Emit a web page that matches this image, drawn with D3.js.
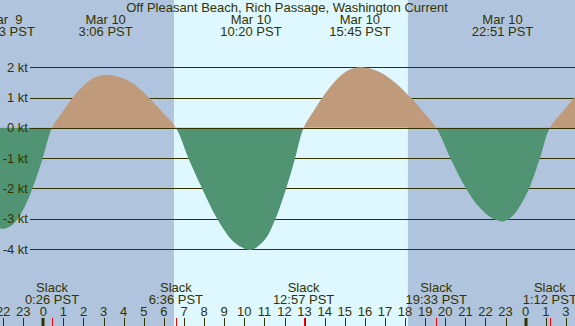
<!DOCTYPE html>
<html><head><meta charset="utf-8">
<script src="https://cdn.jsdelivr.net/npm/d3@7"></script>
<style>
html,body{margin:0;padding:0;background:#b0c4de;}
svg{display:block;}
text{font-family:"Liberation Sans",Arial,sans-serif;fill:#333300;white-space:pre;}
</style></head>
<body>
<script>
// ---- data (hours relative to Mar 10 00:00 PST) ----
const title = "Off Pleasant Beach, Rich Passage, Washington Current";
const curveHours = [-2.4,-1.947,-1.466,-0.971,-0.543,-0.029,0.433,
  0.95,1.526,2.007,2.561,3.1,3.85,4.6,5.25,5.95,6.6,
  7.22,7.9,8.65,9.38,9.9,10.33,11.01,11.55,12.08,12.53,12.95,
  13.49,14.10,14.60,15.18,15.75,16.52,17.31,18.28,18.81,19.55,
  20.25,21.03,21.66,22.31,22.85,23.32,23.81,24.17,24.71,25.2,
  25.85,26.45,26.8];
const curveKnots = [-3.26,-3.33,-3.16,-2.66,-2.0,-1.0,0,
  0.525,1.05,1.40,1.66,1.75,1.66,1.40,1.0,0.5,0,
  -1.0,-2.0,-3.0,-3.70,-3.95,-4.03,-3.70,-3.0,-2.0,-1.0,0,
  0.6,1.2,1.6,1.9,2.0,1.9,1.6,1.0,0.6,0,
  -1.0,-2.0,-2.6,-2.98,-3.09,-2.93,-2.47,-2.0,-1.0,0,
  0.55,1.02,1.25];
const gridKnots = [2,1,0,-1,-2,-3,-4];
const gridLabels = ["2 kt","1 kt","0 kt","-1 kt","-2 kt","-3 kt","-4 kt"];
const tickHours = d3.range(-2,27);
const tickLabels = ["22","23","0","1","2","3","4","5","6","7","8","9","10","11","12",
  "13","14","15","16","17","18","19","20","21","22","23","0","1","3"];
const midnightHours = [0,24];
const slackHours = [0.433,6.6,12.95,19.55,25.2];
const slackLabels = ["0:26 PST","6:36 PST","12:57 PST","19:33 PST","1:12 PST"];
const extremeHours = [-1.95,3.1,10.33,15.75,22.85];
const extremeDates = ["Mar  9","Mar 10","Mar 10","Mar 10","Mar 10"];
const extremeLabels = ["22:03 PST","3:06 PST","10:20 PST","15:45 PST","22:51 PST"];
const daylight = [6.5,18.14];

// ---- drawing ----
const W=575,H=326;
const x = d3.scaleLinear().domain([-43.3/20.1,(575-43.3)/20.1]).range([0,W]);
const y = d3.scaleLinear().domain([2,-4]).range([67.3,249]);
const svg = d3.select("body").append("svg").attr("width",W).attr("height",H);

svg.append("rect").attr("width",W).attr("height",H).attr("fill","#b0c4de");
svg.append("rect").attr("x",x(daylight[0])).attr("y",0)
  .attr("width",x(daylight[1])-x(daylight[0])).attr("height",H).attr("fill","#dff7ff");

// grid lines (under the fill)
svg.selectAll("line.grid").data(gridKnots.filter(d=>d!==0)).join("line")
  .attr("x1",30).attr("x2",W)
  .attr("y1",d=>Math.round(y(d))+0.5).attr("y2",d=>Math.round(y(d))+0.5)
  .attr("stroke","#333300").attr("stroke-width",1);

const pts = curveHours.map((h,i)=>[h,curveKnots[i]]);
const area = d3.area().x(d=>x(d[0])).y0(y(0)).y1(d=>y(d[1])).curve(d3.curveCatmullRom.alpha(0.5));
const defs = svg.append("defs");
defs.append("clipPath").attr("id","above").append("rect")
  .attr("x",0).attr("y",0).attr("width",W).attr("height",y(0));
defs.append("clipPath").attr("id","below").append("rect")
  .attr("x",0).attr("y",y(0)).attr("width",W).attr("height",H-y(0));
svg.append("path").datum(pts).attr("d",area).attr("fill","#bf9b7b").attr("clip-path","url(#above)");
svg.append("path").datum(pts).attr("d",area).attr("fill","#509473").attr("clip-path","url(#below)");

// zero line on top
svg.append("line").attr("x1",30).attr("x2",W)
  .attr("y1",Math.round(y(0))+0.5).attr("y2",Math.round(y(0))+0.5)
  .attr("stroke","#333300").attr("stroke-width",1);

// y labels
svg.selectAll("text.ylab").data(gridKnots).join("text")
  .attr("x",28).attr("y",d=>y(d)).attr("dy","0.35em").attr("text-anchor","end")
  .attr("font-size",13).text((d,i)=>gridLabels[i]);

// title
svg.append("text").attr("x",287).attr("y",12).attr("text-anchor","middle")
  .attr("font-size",13).text(title);

// extremes labels
extremeHours.forEach((h,i)=>{
  svg.append("text").attr("x",x(h)).attr("y",24).attr("text-anchor","middle")
    .attr("font-size",13).text(extremeDates[i]);
  svg.append("text").attr("x",x(h)).attr("y",36).attr("text-anchor","middle")
    .attr("font-size",13).text(extremeLabels[i]);
});

// slack labels
slackHours.forEach((h,i)=>{
  svg.append("text").attr("x",x(h)).attr("y",291.5).attr("text-anchor","middle")
    .attr("font-size",13).text("Slack");
  svg.append("text").attr("x",x(h)).attr("y",304).attr("text-anchor","middle")
    .attr("font-size",13).text(slackLabels[i]);
});

// hour ticks & labels
svg.selectAll("text.hr").data(tickHours).join("text")
  .attr("x",d=>x(d)).attr("y",316).attr("text-anchor","middle")
  .attr("font-size",13).text((d,i)=>tickLabels[i]);
svg.selectAll("line.tk").data(tickHours.filter(h=>!midnightHours.includes(h))).join("line")
  .attr("x1",d=>Math.round(x(d))+0.5).attr("x2",d=>Math.round(x(d))+0.5)
  .attr("y1",318).attr("y2",H).attr("stroke","#333300");
svg.selectAll("rect.mid").data(midnightHours).join("rect")
  .attr("x",d=>Math.round(x(d))-1.5).attr("y",318).attr("width",3).attr("height",8)
  .attr("fill","#333300");
svg.selectAll("line.sl").data(slackHours).join("line")
  .attr("x1",d=>Math.round(x(d))+0.5).attr("x2",d=>Math.round(x(d))+0.5)
  .attr("y1",318).attr("y2",H).attr("stroke","#ff0000");
</script>
</body></html>
